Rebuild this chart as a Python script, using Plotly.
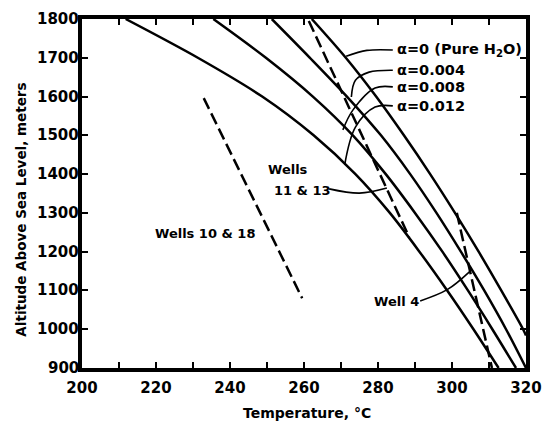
import plotly.graph_objects as go

# ---- data: temperature (°C) read at each 100 m of altitude ----
alt_levels = [1800, 1700, 1600, 1500, 1400, 1300, 1200, 1100, 1000, 900]

a012_T = [211.8, 231.3, 248.7, 262.6, 273.9, 283.2, 291.2, 298.7, 305.8, 312.6]
a008_T = [235.5, 249.7, 262.4, 273.2, 282.1, 290.0, 297.4, 304.3, 310.9, 317.3]
a004_T = [251.3, 261.6, 271.6, 280.8, 288.7, 295.8, 302.4, 308.7, 314.6, 320.0]

a0_T = [262.1, 271.3, 279.5, 287.0, 294.1, 300.8, 307.2, 313.3, 319.2, 320.0]
a0_Z = [1800, 1700, 1600, 1500, 1400, 1300, 1200, 1100, 1000, 984]

w1018_T = [232.9, 259.5]
w1018_Z = [1596, 1080]
w1113_T = [261.3, 288.4]
w1113_Z = [1795, 1238]
w4_T = [301.3, 310.8]
w4_Z = [1300, 900]

# annotation text anchors
lab_alpha = ["α=0 (Pure H<sub>2</sub>O)", "α=0.004", "α=0.008", "α=0.012"]
lab_alpha_T = [284.6, 284.6, 284.6, 284.6]
lab_alpha_Z = [1720, 1668, 1625, 1576]

# leader lines (label -> curve)
leaders = [
    ([284.0, 277.0, 271.4], [1720, 1719, 1704]),
    ([284.0, 277.6, 273.9, 272.8], [1668, 1663, 1642, 1599]),
    ([284.0, 279.2, 273.2, 270.5], [1625, 1622, 1565, 1514]),
    ([284.0, 279.2, 273.9, 271.0], [1576, 1573, 1521, 1424]),
    ([266.8, 275.0, 282.4], [1362, 1351, 1364]),
    ([291.4, 298.7, 304.7], [1073, 1102, 1148]),
]

other_labels = ["Wells", "11 & 13", "Wells 10 & 18", "Well 4"]
other_T = [255.6, 259.5, 233.3, 284.9]
other_Z = [1413, 1359, 1246, 1072]

x_ticks = [200, 220, 240, 260, 280, 300, 320]
y_ticks = [900, 1000, 1100, 1200, 1300, 1400, 1500, 1600, 1700, 1800]

FONT = "DejaVu Sans"
fig = go.Figure()

for T, Z in [(a0_T, a0_Z), (a004_T, alt_levels), (a008_T, alt_levels), (a012_T, alt_levels)]:
    fig.add_trace(go.Scatter(x=T, y=Z, mode="lines",
                             line=dict(color="black", width=2.5, shape="spline", smoothing=0.9),
                             showlegend=False, hoverinfo="skip"))

for T, Z in [(w1018_T, w1018_Z), (w1113_T, w1113_Z), (w4_T, w4_Z)]:
    fig.add_trace(go.Scatter(x=T, y=Z, mode="lines",
                             line=dict(color="black", width=2.5, dash="12px,5px"),
                             showlegend=False, hoverinfo="skip"))

for T, Z in leaders:
    fig.add_trace(go.Scatter(x=T, y=Z, mode="lines",
                             line=dict(color="black", width=1.6, shape="spline", smoothing=1.0),
                             showlegend=False, hoverinfo="skip"))

for txt, t, z in zip(lab_alpha, lab_alpha_T, lab_alpha_Z):
    fig.add_annotation(x=t, y=z, text=txt, showarrow=False, xanchor="left", yanchor="middle",
                       font=dict(family=FONT, size=14.5, color="black", weight="bold"))

for txt, t, z in zip(other_labels, other_T, other_Z):
    fig.add_annotation(x=t, y=z, text=txt, showarrow=False, xanchor="center", yanchor="middle",
                       font=dict(family=FONT, size=13, color="black", weight="bold"))

# y tick labels placed tight against the axis, on the y scale
for v in y_ticks:
    fig.add_annotation(xref="paper", yref="y", x=0, y=v, text=str(v), showarrow=False,
                       xanchor="right", yanchor="middle", xshift=-1,
                       font=dict(family=FONT, size=15, color="black", weight="bold"))

# axis titles
fig.add_annotation(xref="paper", yref="paper", x=0.507, y=-0.129, text="Temperature, °C",
                   showarrow=False, xanchor="center", yanchor="middle",
                   font=dict(family=FONT, size=14, color="black", weight="bold"))
fig.add_annotation(xref="paper", yref="paper", x=-0.138, y=0.453, text="Altitude Above Sea Level, meters",
                   showarrow=False, xanchor="center", yanchor="middle", textangle=-90,
                   font=dict(family=FONT, size=13.5, color="black", weight="bold"))

axis_common = dict(showgrid=False, zeroline=False, showline=True, linecolor="black", linewidth=4,
                   mirror="ticks", ticks="inside", ticklen=6, tickwidth=2, tickcolor="black",
                   tickfont=dict(family=FONT, size=15, color="black", weight="bold"))

fig.update_xaxes(range=[200, 320], tickvals=x_ticks, ticklabelstandoff=3,
                 minor=dict(dtick=10, ticks="inside", ticklen=6, tickwidth=2, tickcolor="black"),
                 **axis_common)
fig.update_yaxes(range=[900, 1800], tickvals=y_ticks, showticklabels=False,
                 **axis_common)

fig.update_layout(width=554, height=424, margin=dict(l=82, r=16, t=19, b=56),
                  paper_bgcolor="white", plot_bgcolor="white", showlegend=False)

fig.write_html("out.html")
